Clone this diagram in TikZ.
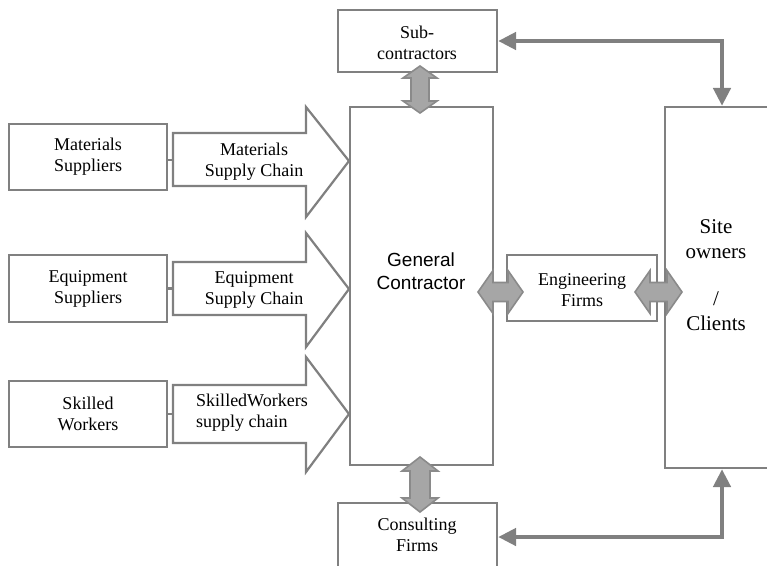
\documentclass[tikz,border=0pt]{standalone}
\usepackage{fontspec}
\setmainfont{Liberation Serif}
\newfontfamily\gcfont{Liberation Sans}
\usetikzlibrary{arrows.meta,calc}
\definecolor{lc}{HTML}{808080}
\definecolor{af}{HTML}{A6A6A6}
\definecolor{ae}{HTML}{8A8A8A}
\begin{document}
\begin{tikzpicture}[x=1pt,y=-1pt,
  box/.style={draw=lc,line width=2.2pt,fill=white,inner sep=0pt},
  txt/.style={inner sep=0pt,align=center,font=\fontsize{18}{21}\selectfont},
  chain/.style={draw=lc,line width=2.2pt,fill=white,line join=miter},
  link/.style={draw=lc,line width=2.2pt},
  dbl/.style={draw=ae,line width=1.6pt,fill=af,line join=miter},
  flow/.style={draw=lc,line width=4.5pt,
    {Triangle[length=18pt,width=17pt]}-{Triangle[length=18pt,width=17pt]}}]
\useasboundingbox (0,0) rectangle (767,565);
\fill[white] (0,0) rectangle (767,565);

% supplier boxes
\node[box,minimum width=158,minimum height=66] (ms) at (88,157) {};
\node[txt] at (ms) {Materials\\Suppliers};
\node[box,minimum width=158,minimum height=67] (es) at (88,288.5) {};
\node[txt] at (es) {Equipment\\Suppliers};
\node[box,minimum width=158,minimum height=66] (sw) at (88,414) {};
\node[txt] at (sw) {Skilled\\Workers};

% supply chain arrows
\coordinate (msc) at (173,160);
\coordinate (esc) at (173,288.5);
\coordinate (swc) at (173,414);
\draw[chain] (173,133) -- (306,133) -- (306,107) -- (349,161) -- (306,217) -- (306,186) -- (173,186) -- cycle;
\draw[chain] (173,262) -- (306,262) -- (306,233) -- (349,289) -- (306,347) -- (306,315) -- (173,315) -- cycle;
\draw[chain] (173,385) -- (306,385) -- (306,357) -- (349,414) -- (306,472) -- (306,443) -- (173,443) -- cycle;
\node[txt] (msct) at (254,162) {Materials\\Supply Chain};
\node[txt] (esct) at (254,290) {Equipment\\Supply Chain};
\node[txt,align=left] (swct) at (252,413) {SkilledWorkers\\supply chain};

\draw[link] (msc -| ms.east) -- (msc);
\draw[link] (esc -| es.east) -- (esc);
\draw[link] (swc -| sw.east) -- (swc);

% main boxes
\node[box,minimum width=143,minimum height=358] (gc) at (421.5,286) {};
\node[inner sep=0pt,align=center,font=\gcfont\fontsize{19}{23}\selectfont] (gct) at (421,271) {General\\Contractor};

\node[box,minimum width=159,minimum height=62] (sub) at (417.5,41) {};
\node[txt] at (417,43) {Sub-\\contractors};

\node[box,minimum width=159,minimum height=68] (cons) at (417.5,537) {};
\node[txt] at (417,535) {Consulting\\Firms};

\node[box,minimum width=150,minimum height=66] (eng) at (582,288) {};
\node[txt] at (582,290) {Engineering\\Firms};

\node[box,minimum width=104,minimum height=361] (site) at (717,287.5) {};
\node[inner sep=0pt,align=center,font=\fontsize{21}{25}\selectfont] (sitet) at (716,275) {Site\\owners\\[22pt]/\\Clients};

% thick flows
\draw[flow] (sub.east) -| ([xshift=5pt]site.north);
\draw[flow] (cons.east) -| ([xshift=5pt]site.south);

% double arrows
\draw[dbl] (420,66) -- (437,78) -- (429,78) -- (429,101) -- (437,101) -- (420,113) -- (403,101) -- (411,101) -- (411,78) -- (403,78) -- cycle;
\draw[dbl] (420,457) -- (438,471) -- (430,471) -- (430,498) -- (438,498) -- (420,512) -- (402,498) -- (410,498) -- (410,471) -- (402,471) -- cycle;
\draw[dbl] (478,292) -- (493,270.5) -- (493,282.5) -- (508,282.5) -- (508,270.5) -- (523,292) -- (508,313.5) -- (508,301.5) -- (493,301.5) -- (493,313.5) -- cycle;
\draw[dbl] (635,292) -- (650,270.5) -- (650,282.5) -- (667,282.5) -- (667,270.5) -- (682,292) -- (667,313.5) -- (667,301.5) -- (650,301.5) -- (650,313.5) -- cycle;
\end{tikzpicture}
\end{document}
